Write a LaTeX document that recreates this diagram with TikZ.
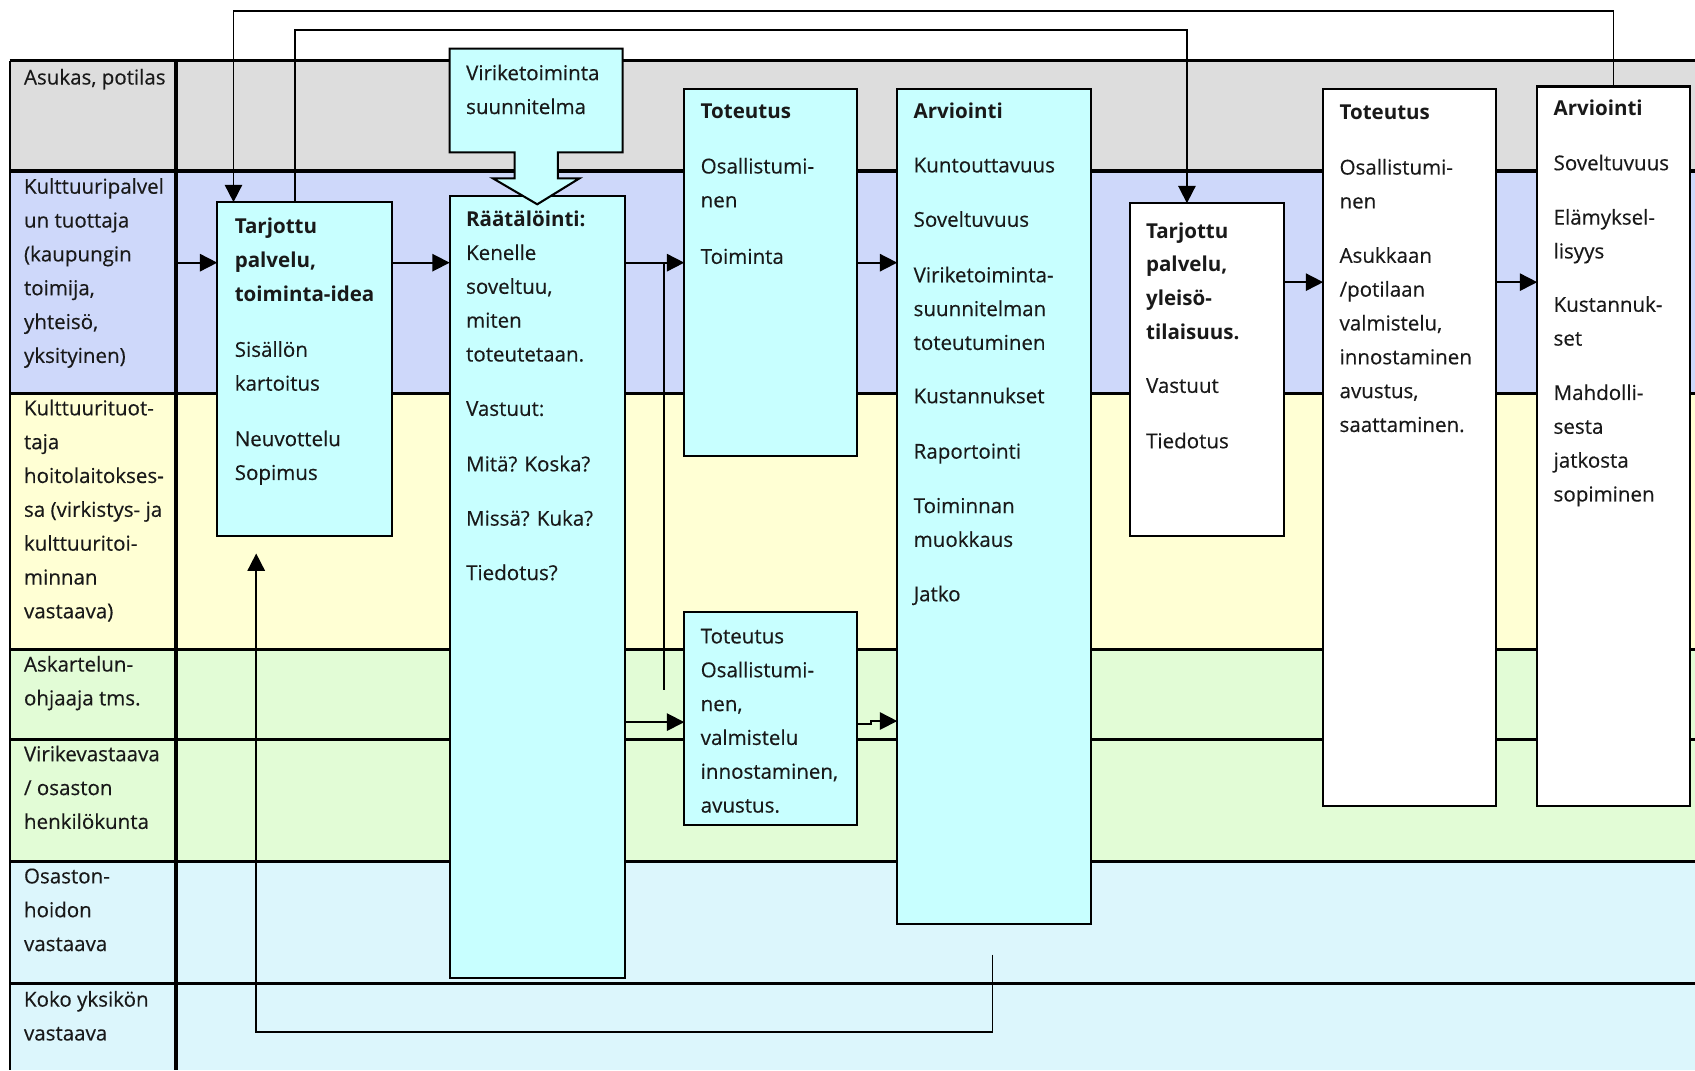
\documentclass[tikz,border=0pt]{standalone}
\usepackage{fontspec}
\setmainfont{Open Sans}[UprightFeatures={FakeBold=0.35}]
\usetikzlibrary{arrows.meta}
\definecolor{lanegray}{RGB}{221,221,221}
\definecolor{laneblue}{RGB}{206,216,250}
\definecolor{laneyellow}{RGB}{255,255,212}
\definecolor{lanegreen}{RGB}{226,252,214}
\definecolor{lanecyan}{RGB}{220,246,252}
\definecolor{boxcyan}{RGB}{200,255,255}
\newcommand{\fstrut}{\rule{0pt}{20pt}}
\begin{document}
\begin{tikzpicture}[x=1pt,y=-1pt,
  lanesep/.style={line width=3.2pt},
  boxc/.style={draw, line width=1.9pt, fill=boxcyan, anchor=north west, inner sep=0pt, outer sep=0pt},
  boxw/.style={boxc, fill=white},
  txt/.style={anchor=north west, inner sep=0pt, align=left, text=black!90, font=\fontsize{19}{31.3}\selectfont},
  conn/.style={line width=1.6pt, -{Triangle[length=16pt,width=16pt]}},
  plainline/.style={line width=1.6pt}]
\useasboundingbox (0,0) rectangle (1568,990);
% lanes
\fill[lanegray] (9,56) rectangle (1568,158);
\fill[laneblue] (9,158) rectangle (1568,364);
\fill[laneyellow] (9,364) rectangle (1568,601);
\fill[lanegreen] (9,601) rectangle (1568,797);
\fill[lanecyan] (9,797) rectangle (1568,990);
\draw[line width=2pt] (9,56) -- (1568,56);
\foreach \yy in {158,364,601,684,797,910} \draw[lanesep] (9,\yy) -- (1568,\yy);
\draw[line width=1.6pt] (9,56) -- (9,990);
\draw[line width=3.2pt] (163,56) -- (163,990);
% boxes
\node[boxc, minimum width=162pt, minimum height=309pt] (tarL) at (201,187) {};
\node[boxc, minimum width=162pt, minimum height=724pt] (raat) at (416,181) {};
\node[boxc, minimum width=160pt, minimum height=340pt] (totU) at (633,82) {};
\node[boxc, minimum width=160pt, minimum height=197pt] (totL) at (633,566) {};
\node[boxc, minimum width=179pt, minimum height=773pt] (arvM) at (830,82) {};
\node[boxw, minimum width=143pt, minimum height=308pt] (tarR) at (1045,188) {};
\node[boxw, minimum width=160pt, minimum height=664pt] (totR) at (1224,82) {};
\node[boxw, minimum width=141pt, minimum height=666pt] (arvR) at (1422,80) {};
% block arrow
\filldraw[fill=boxcyan, line width=1.9pt] (416,45) -- (576,45) -- (576,141) -- (516,141) -- (516,165) -- (536,165) -- (497,189) -- (456,165) -- (476,165) -- (476,141) -- (416,141) -- cycle;
% connectors
\coordinate (in1) at (165,243);
\draw[conn] (in1) -- (in1 -| tarL.west);
\draw[conn] (tarL.east |- in1) -- (raat.west |- in1);
\draw[conn] (raat.east |- in1) -- (totU.west |- in1);
\draw[conn] (totU.east |- in1) -- (arvM.west |- in1);
\coordinate (br) at (614,243);
\coordinate (brEnd) at (614,638);
\draw[plainline] (br) -- (brEnd);
\coordinate (lowY) at (0,668);
\draw[conn] (raat.east |- lowY) -- (totL.west |- lowY);
\coordinate (jogA) at (806,670);
\coordinate (jogB) at (806,667);
\draw[conn] (totL.east |- jogA) -- (jogA) -- (jogB) -- (arvM.west |- jogB);
\coordinate (rY) at (0,261);
\draw[conn] (tarR.east |- rY) -- (totR.west |- rY);
\draw[conn] (totR.east |- rY) -- (arvR.west |- rY);
\coordinate (tL1) at ([xshift=15pt]tarL.north west);
\coordinate (tL2) at ([xshift=72pt]tarL.north west);
\coordinate (tR2) at ([xshift=53pt]tarR.north west);
\coordinate (topA) at (0,10);
\coordinate (topB) at (0,28);
\draw[conn] (arvR.north) -- (arvR.north |- topA) -- (tL1 |- topA) -- (tL1);
\draw[conn] (tL2) -- (tL2 |- topB) -- (tR2 |- topB) -- (tR2);
\coordinate (bl1) at (918,883);
\coordinate (bl2) at (237,512);
\draw[conn] (bl1) -- ++(0,72) -| (bl2);
% lane labels
\node[txt] (lab1) at (22,58) {\fstrut Asukas, potilas};
\node[txt] (lab2) at (22,159) {\fstrut Kulttuuripalvel\\un tuottaja\\(kaupungin\\toimija,\\yhteisö,\\yksityinen)};
\node[txt] (lab3) at (22,364) {\fstrut Kulttuurituot-\\taja\\hoitolaitokses-\\sa (virkistys- ja\\kulttuuritoi-\\minnan\\vastaava)};
\node[txt] (lab4) at (22,601) {\fstrut Askartelun-\\ohjaaja tms.};
\node[txt] (lab5) at (22,684) {\fstrut Virikevastaava\\/ osaston\\henkilökunta};
\node[txt] (lab6) at (22,797) {\fstrut Osaston-\\hoidon\\vastaava};
\node[txt] (lab7) at (22,911) {\fstrut Koko yksikön\\vastaava};
% box texts
\node[txt] (viriT) at (431,54) {\fstrut Viriketoiminta\\suunnitelma};
\node[txt] (tarLt) at (217,196) {\fstrut\textbf{Tarjottu}\\\textbf{palvelu,}\\\textbf{toiminta-idea}\\[20pt]Sisällön\\kartoitus\\[20pt]Neuvottelu\\Sopimus};
\node[txt] (raatT) at (431,189) {\fstrut\textbf{Räätälöinti:}\\Kenelle\\soveltuu,\\miten\\toteutetaan.\\[19pt]Vastuut:\\[20pt]Mitä? Koska?\\[19pt]Missä? Kuka?\\[19pt]Tiedotus?};
\node[txt] (totUt) at (648,89) {\fstrut\textbf{Toteutus}\\[20pt]Osallistumi-\\nen\\[21pt]Toiminta};
\node[txt] (totLt) at (648,575) {\fstrut Toteutus\\Osallistumi-\\nen,\\valmistelu\\innostaminen,\\avustus.};
\node[txt] (arvMt) at (845,89) {\fstrut\textbf{Arviointi}\\[19pt]Kuntouttavuus\\[19pt]Soveltuvuus\\[20pt]Viriketoiminta-\\suunnitelman\\toteutuminen\\[18pt]Kustannukset\\[20pt]Raportointi\\[19pt]Toiminnan\\muokkaus\\[19pt]Jatko};
\node[txt] (tarRt) at (1060,200) {\fstrut\textbf{Tarjottu}\\\textbf{palvelu,}\\\textbf{yleisö-}\\\textbf{tilaisuus.}\\[18pt]Vastuut\\[20pt]Tiedotus};
\node[txt] (totRt) at (1239,90) {\fstrut\textbf{Toteutus}\\[20pt]Osallistumi-\\nen\\[19pt]Asukkaan\\/potilaan\\valmistelu,\\innostaminen\\avustus,\\saattaminen.};
\node[txt] (arvRt) at (1437,87) {\fstrut\textbf{Arviointi}\\[19pt]Soveltuvuus\\[19pt]Elämyksel-\\lisyys\\[18pt]Kustannuk-\\set\\[19pt]Mahdolli-\\sesta\\jatkosta\\sopiminen};
\end{tikzpicture}
\end{document}
